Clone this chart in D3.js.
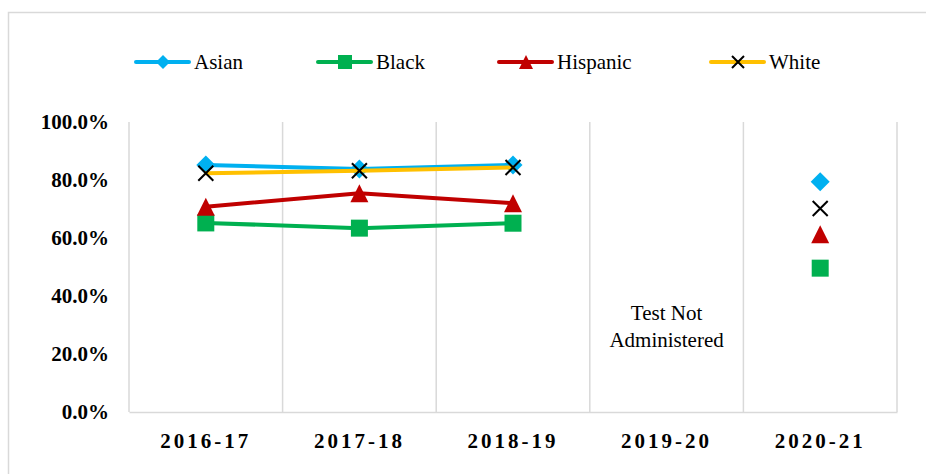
<!DOCTYPE html>
<html>
<head>
<meta charset="utf-8">
<script src="https://cdn.jsdelivr.net/npm/d3@7"></script>
<style>
  body { margin: 0; background: #fff; }
</style>
</head>
<body>
<div id="viz"></div>
<script>
var years = ["2016-17", "2017-18", "2018-19", "2019-20", "2020-21"];
var yTicks = [0, 20, 40, 60, 80, 100];
var asian    = [85.2, 83.8, 85.2, null, 79.4];
var black    = [65.2, 63.4, 65.1, null, 49.6];
var hispanic = [70.8, 75.4, 72.0, null, 61.3];
var white    = [82.3, 83.2, 84.3, null, 70.2];
var seriesNames = ["Asian", "Black", "Hispanic", "White"];
var noteLines = ["Test Not", "Administered"];

var W = 926, H = 474,
    margin = { top: 122, right: 29, bottom: 62, left: 129 },
    w = W - margin.left - margin.right,
    h = H - margin.top - margin.bottom,
    serif = "'Liberation Serif'";

var series = [
  { name: "Asian",    values: asian,    line: "#00B0F0", fill: "#00B0F0", shape: "diamond" },
  { name: "Black",    values: black,    line: "#00B050", fill: "#00B050", shape: "square" },
  { name: "Hispanic", values: hispanic, line: "#C00000", fill: "#C00000", shape: "triangle" },
  { name: "White",    values: white,    line: "#FFC000", fill: "#000",    shape: "cross" }
];

var svg = d3.select("#viz").append("svg")
    .attr("width", W)
    .attr("height", H);

// outer chart frame
svg.append("rect")
    .attr("x", 8.5).attr("y", 12.5)
    .attr("width", W + 20).attr("height", H + 20)
    .attr("fill", "none")
    .attr("stroke", "#d9d9d9")
    .attr("stroke-width", 1.5);

var g = svg.append("g")
    .attr("transform", "translate(" + margin.left + "," + margin.top + ")");

var x = d3.scaleBand().domain(years).range([0, w]).padding(0);
var y = d3.scaleLinear().domain([0, 100]).range([h, 0]);

// vertical category gridlines
var bounds = years.map(function(d) { return x(d); }).concat([w]);
g.selectAll(".vgrid").data(bounds).enter()
  .append("line")
    .attr("class", "vgrid")
    .attr("x1", function(d) { return d; })
    .attr("x2", function(d) { return d; })
    .attr("y1", 0)
    .attr("y2", h)
    .attr("stroke", "#d9d9d9")
    .attr("stroke-width", 1.5);

// bottom axis
var xAxis = d3.axisBottom(x).tickSize(0).tickPadding(21);
var xg = g.append("g")
    .attr("transform", "translate(0," + h + ")")
    .call(xAxis);
xg.select(".domain").attr("stroke", "#d9d9d9").attr("stroke-width", 1.5);
xg.selectAll("text")
    .style("font-family", serif)
    .style("font-size", "21px")
    .style("font-weight", "bold")
    .style("letter-spacing", "3px")
    .attr("fill", "#000");

// left axis
var yAxis = d3.axisLeft(y).tickValues(yTicks).tickSize(0).tickPadding(20)
    .tickFormat(function(d) { return d.toFixed(1) + "%"; });
var yg = g.append("g").call(yAxis);
yg.select(".domain").remove();
yg.selectAll("text")
    .style("font-family", serif)
    .style("font-size", "21px")
    .style("font-weight", "bold")
    .attr("fill", "#000");

function markerPath(shape, s) {
  var r = s / 2;
  if (shape === "diamond") return "M0," + (-r) + "L" + r + ",0L0," + r + "L" + (-r) + ",0Z";
  if (shape === "square") return "M" + (-r) + "," + (-r) + "h" + s + "v" + s + "h" + (-s) + "Z";
  if (shape === "triangle") return "M0," + (-r) + "L" + r + "," + r + "L" + (-r) + "," + r + "Z";
  return "M" + (-r) + "," + (-r) + "L" + r + "," + r + "M" + r + "," + (-r) + "L" + (-r) + "," + r;
}

var cx = function(i) { return x(years[i]) + x.bandwidth() / 2; };
var line = d3.line()
    .defined(function(d) { return d != null; })
    .x(function(d, i) { return cx(i); })
    .y(function(d) { return y(d); });

var sizes = { diamond: 19, square: 17, triangle: 18, cross: 15 };

series.forEach(function(s) {
  var sg = g.append("g");
  // only runs of connected points get a line
  sg.append("path")
      .datum(s.values.map(function(v, i) {
        var prev = s.values[i - 1], next = s.values[i + 1];
        return (v != null && (prev != null || next != null)) ? v : null;
      }))
      .attr("fill", "none")
      .attr("stroke", s.line)
      .attr("stroke-width", 4)
      .attr("stroke-linejoin", "round")
      .attr("stroke-linecap", "round")
      .attr("d", line);
  sg.selectAll(".pt").data(s.values.map(function(v, i) { return { v: v, i: i }; })
        .filter(function(d) { return d.v != null; }))
    .enter().append("path")
      .attr("class", "pt")
      .attr("transform", function(d) { return "translate(" + cx(d.i) + "," + y(d.v) + ")"; })
      .attr("d", markerPath(s.shape, sizes[s.shape]))
      .attr("fill", s.shape === "cross" ? "none" : s.fill)
      .attr("stroke", s.shape === "cross" ? s.fill : "none")
      .attr("stroke-width", 2);
});

// note for the missing year
var note = g.append("text")
    .attr("x", cx(3))
    .attr("y", 198)
    .attr("text-anchor", "middle")
    .style("font-family", serif)
    .style("font-size", "21px")
    .attr("fill", "#000");
note.selectAll("tspan").data(noteLines).enter()
  .append("tspan")
    .attr("x", cx(3))
    .attr("dy", function(d, i) { return i === 0 ? 0 : 27; })
    .text(function(d) { return d; });

// legend
var legendX = [136, 318, 499, 711];
var leg = svg.append("g").attr("transform", "translate(0,62)");
series.forEach(function(s, i) {
  var lg = leg.append("g").attr("transform", "translate(" + legendX[i] + ",0)");
  lg.append("line")
      .attr("x1", 0).attr("x2", 53)
      .attr("y1", 0).attr("y2", 0)
      .attr("stroke", s.line)
      .attr("stroke-width", 4)
      .attr("stroke-linecap", "round");
  lg.append("path")
      .attr("transform", "translate(27,0)")
      .attr("d", markerPath(s.shape, s.shape === "cross" ? 12 : 14))
      .attr("fill", s.shape === "cross" ? "none" : s.fill)
      .attr("stroke", s.shape === "cross" ? s.fill : "none")
      .attr("stroke-width", 2);
  lg.append("text")
      .attr("x", 58)
      .attr("y", 0)
      .attr("dy", "0.35em")
      .style("font-family", serif)
      .style("font-size", "21px")
      .attr("fill", "#000")
      .text(seriesNames[i]);
});
</script>
</body>
</html>
